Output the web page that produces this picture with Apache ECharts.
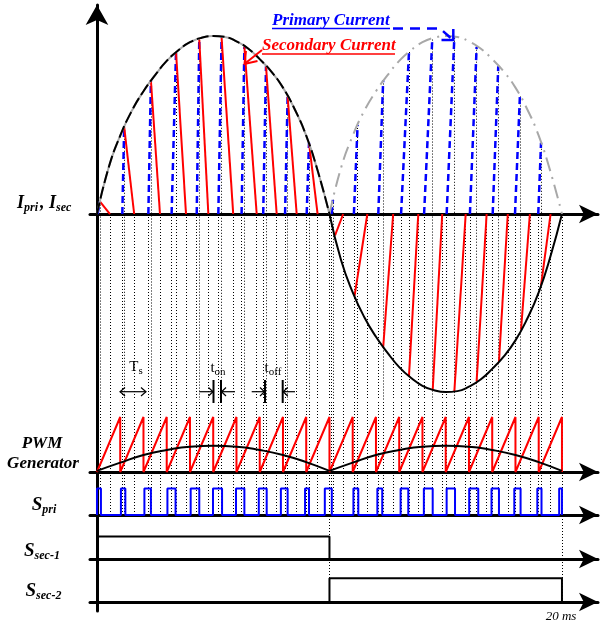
<!DOCTYPE html>
<html><head><meta charset="utf-8">
<script src="https://cdn.jsdelivr.net/npm/echarts@6/dist/echarts.min.js"></script>
<style>html,body{margin:0;padding:0;background:#fff}#c{width:605px;height:626px}</style>
</head><body><div id="c"></div><script>
// ---------- DATA (time in ms) ----------
const envT = [0,0.5,1,1.5,2,2.5,3,3.5,4,4.5,5,5.5,6,6.5,7,7.5,8,8.5,9,9.5,10];
const envI = [0,0.26,0.44,0.58,0.69,0.78,0.86,0.92,0.965,0.99,1.0,0.995,0.97,0.93,0.87,0.80,0.71,0.59,0.44,0.24,0];
const halfCycle = 10;
// primary current ramps (blue dashed)
const priStart = [0.03,1.09,2.21,3.21,4.29,5.22,6.22,7.15,8.09,9.02,10.09,11.05,12.10,13.08,14.07,15.04,16.04,17.02,17.98,18.98];
const priEnd   = [0.13,1.17,2.32,3.40,4.40,5.36,6.34,7.27,8.20,9.12,10.15,11.21,12.31,13.42,14.42,15.37,16.33,17.26,18.19,19.10];
const priPeak  = [0.07,0.49,0.75,0.91,0.98,0.99,0.94,0.83,0.66,0.40,0.08,0.50,0.75,0.91,0.98,0.99,0.94,0.83,0.66,0.40];
// secondary current ramps (red)
const secStart = [0.13,1.17,2.32,3.40,4.40,5.36,6.34,7.27,8.20,9.12,10.24,11.08,12.31,13.42,14.44,15.37,16.33,17.29,18.24,19.10];
const secPeak  = [0.07,0.49,0.75,0.91,0.98,0.99,0.94,0.83,0.66,0.40,-0.12,-0.46,-0.75,-0.91,-0.99,-1.0,-0.94,-0.83,-0.65,-0.40];
const secEnd   = [0.56,1.60,2.71,3.83,4.79,5.86,6.87,7.73,8.59,9.49,10.59,11.63,12.74,13.82,14.85,15.86,16.76,17.67,18.62,19.51];
// PWM generator
const sawPeakT = [1,2,3,4,5,6,7,8,9,10,11,12,13,14,15,16,17,18,19,20];
const refT = [0,1,2,3,4,5,6,7,8,9,10];
const refV = [0.02,0.17,0.31,0.40,0.46,0.475,0.46,0.40,0.31,0.18,0.02];
// switch signals
const sPriOn  = [0.0,1.03,2.04,3.03,4.03,4.99,5.98,6.96,7.91,8.95,9.80,11.03,12.06,13.06,14.06,15.04,16.01,16.97,17.95,18.94,19.88];
const sPriOff = [0.17,1.22,2.32,3.38,4.40,5.38,6.34,7.30,8.20,9.12,10.10,11.24,12.27,13.39,14.44,15.40,16.40,17.29,18.22,19.12,20.0];
const sSec1 = [0, 10];
const sSec2 = [10, 20];
const markerT = [10, 20];

// ---------- LAYOUT ----------
const BLUE='#0000ff', RED='#ff0000', GREY='#a8a8a8';
const SERIF="'Liberation Serif','Times New Roman',serif";
const xMin=-0.3, xMax=21.55;
const panels=[
  {top:5,height:395,min:-1.0449,max:1.1742},
  {top:400,height:72,min:0,max:1.309},
  {top:472,height:43,min:0,max:1.6226},
  {top:515,height:44,min:0,max:1.9556},
  {top:559,height:52,min:-0.3797,max:1.8143}
];
const dot={color:'#000',width:1,type:[1,2],opacity:1};
function vl(times,y0,y1){return times.map(t=>({coords:[[t,y0],[t,y1]]}));}
function dotted(i,data){return {type:'lines',coordinateSystem:'cartesian2d',xAxisIndex:i,yAxisIndex:i,polyline:false,silent:true,lineStyle:dot,data,z:1};}
function line(i,data,ls,extra){return Object.assign({type:'line',xAxisIndex:i,yAxisIndex:i,data,symbol:'none',showSymbol:false,silent:true,lineStyle:ls,z:3},extra||{});}

const allT=priStart.concat(priEnd,secEnd,markerT);
const envFirst=envT.map((t,k)=>[t,envI[k]]);
const envSecond=envT.map((t,k)=>[t+halfCycle,envI[k]]);
const envNeg=envT.map((t,k)=>[t+halfCycle,-envI[k]]);
const saw=[[0,0]];sawPeakT.forEach(p=>{saw.push([p,1]);saw.push([p,0]);});
const ref1=refT.map((t,k)=>[t,refV[k]]);
const ref2=refT.map((t,k)=>[t+halfCycle,refV[k]]);
const spri=[[0,0]];sPriOn.forEach((s,k)=>{spri.push([s,0],[s,1],[sPriOff[k],1],[sPriOff[k],0]);});
const ssec1=[[sSec1[0],1],[sSec1[1],1],[sSec1[1],0]];
const ssec2=[[sSec2[0],0],[sSec2[0],1],[sSec2[1],1],[sSec2[1],0]];

const series=[
  dotted(0, priEnd.map((t,k)=>({coords:[[t,priPeak[k]],[t,panels[0].min]]}))
     .concat(vl(priStart,0,panels[0].min),vl(secEnd,0,panels[0].min),vl(markerT,0,panels[0].min))),
  {type:'lines',coordinateSystem:'cartesian2d',xAxisIndex:0,yAxisIndex:0,polyline:false,silent:true,z:5,
    lineStyle:{color:BLUE,width:2.5,type:[7,4],opacity:1},
    data:priStart.map((s,k)=>({coords:[[s,0],[priEnd[k],priPeak[k]]]}))},
  {type:'lines',coordinateSystem:'cartesian2d',xAxisIndex:0,yAxisIndex:0,polyline:false,silent:true,z:5,
    lineStyle:{color:RED,width:2,opacity:1},
    data:secStart.map((s,k)=>({coords:[[s,secPeak[k]],[secEnd[k],0]]}))},
  line(0,envFirst,{color:GREY,width:2},{smooth:0.5,z:6}),
  line(0,envFirst,{color:'#000',width:2,type:[12,4]},{smooth:0.5,z:7}),
  line(0,envSecond,{color:GREY,width:2,type:[14,6,2,6]},{smooth:0.5,z:6}),
  line(0,envNeg,{color:'#000',width:2},{smooth:0.5,z:6}),
  dotted(1, vl(allT,0,panels[1].max)),
  line(1,saw,{color:RED,width:2}),
  line(1,ref1,{color:'#000',width:2},{smooth:0.5,z:4}),
  line(1,ref2,{color:'#000',width:2},{smooth:0.5,z:4}),
  dotted(2, vl(allT,0,panels[2].max)),
  line(2,spri,{color:BLUE,width:2}),
  dotted(3, vl(markerT,0,panels[3].max)),
  line(3,ssec1,{color:'#000',width:2}),
  dotted(4, vl(markerT,0,panels[4].max)),
  line(4,ssec2,{color:'#000',width:2})
];

// text with subscripts: separate pieces placed using measured widths
const mctx=document.createElement('canvas').getContext('2d');
function label(x,yc,parts,F,f,o){
  o=o||{};
  const w=o.bold===false?'normal':'bold', st=o.italic===false?'normal':'italic', c=o.color||'#000';
  const drop=o.drop!=null?o.drop:4.5;
  const gap=o.gap!=null?o.gap:0;
  const items=parts.map(p=>{
    const sz=p[1]?f:F;
    mctx.font=st+' '+w+' '+sz+'px '+SERIF;
    return {t:p[0],sz,sub:!!p[1],wd:mctx.measureText(p[0]).width+(p[1]?gap:0)};
  });
  const total=items.reduce((a,b)=>a+b.wd,0);
  let x0=o.align==='left'?x:x-total/2;
  return items.map(it=>{
    const el={type:'text',x:x0,y:it.sub?yc+drop:yc,z:100,silent:true,
      style:{text:it.t,fontSize:it.sz,fontFamily:SERIF,fontWeight:w,fontStyle:st,fill:c,align:'left',verticalAlign:'middle'}};
    x0+=it.wd;return el;
  });
}
function seg(pts,stroke,w,dash){return {type:'polyline',z:100,silent:true,shape:{points:pts},style:{stroke,lineWidth:w,fill:null,lineDash:dash||null}};}

const graphic=[].concat(
  label(17,203,[['I'],['pri',1],[', I'],['sec',1]],18,12,{align:'left',gap:2}),
  label(42,444,[['PWM']],17,12),
  label(43,464,[['Generator']],17,12),
  label(44,505.5,[['S'],['pri',1]],19,12),
  label(42,551,[['S'],['sec-1',1]],19,12),
  label(43.5,591,[['S'],['sec-2',1]],19,12),
  label(561,617,[['20 ms']],13,10,{bold:false}),
  label(136,367,[['T'],['s',1]],15,11,{bold:false,italic:false,drop:4}),
  label(218,368,[['t'],['on',1]],15,11,{bold:false,italic:false,drop:4}),
  label(273,368,[['t'],['off',1]],15,11,{bold:false,italic:false,drop:4}),
  label(272,21,[['Primary Current']],17,12,{align:'left',color:BLUE}),
  label(262,46,[['Secondary Current']],17,12,{align:'left',color:RED}),
  [
  seg([[272,28.5],[390,28.5]],BLUE,1.5),
  seg([[393,28.5],[440,28.5],[453,40]],BLUE,2.5,[10,7]),
  seg([[441.5,40],[453.3,40],[453.3,29]],BLUE,2.5),
  seg([[262,54],[395,54]],RED,1.5),
  seg([[262,50],[245,63.5]],RED,2),
  seg([[246,51],[244.5,64],[257.5,61]],RED,2),
  seg([[120,391.7],[146,391.7]],'#000',1.2),
  seg([[125,387.5],[120,391.7],[125,396]],'#000',1.2),
  seg([[141,387.5],[146,391.7],[141,396]],'#000',1.2),
  seg([[199.3,391.7],[213,391.7]],'#000',1.2),
  seg([[208.5,387.5],[213,391.7],[208.5,396]],'#000',1.2),
  seg([[213.5,380],[213.5,403]],'#000',2),
  seg([[221,380],[221,403]],'#000',2),
  seg([[235,391.7],[221.5,391.7]],'#000',1.2),
  seg([[226,387.5],[221.5,391.7],[226,396]],'#000',1.2),
  seg([[251.7,391.7],[264.5,391.7]],'#000',1.2),
  seg([[260,387.5],[264.5,391.7],[260,396]],'#000',1.2),
  seg([[265,380],[265,403]],'#000',2),
  seg([[282.7,380],[282.7,403]],'#000',2),
  seg([[295,391.7],[283.2,391.7]],'#000',1.2),
  seg([[287.7,387.5],[283.2,391.7],[287.7,396]],'#000',1.2)
  ]
);

const option={
  animation:false,
  backgroundColor:'#fff',
  grid:panels.map(p=>({left:90,width:508,top:p.top,height:p.height,outerBoundsMode:'none'})),
  xAxis:panels.map((p,i)=>({type:'value',gridIndex:i,min:xMin,max:xMax,
    axisLine:{show:true,onZero:true,symbol:['none','arrow'],symbolSize:[14,19],lineStyle:{color:'#000',width:3}},
    axisTick:{show:false},axisLabel:{show:false},splitLine:{show:false}})),
  yAxis:panels.map((p,i)=>({type:'value',gridIndex:i,min:p.min,max:p.max,
    axisLine:{show:true,onZero:true,symbol:i===0?['none','arrow']:'none',symbolSize:[17,20],lineStyle:{color:'#000',width:3}},
    axisTick:{show:false},axisLabel:{show:false},splitLine:{show:false}})),
  series,
  graphic
};
echarts.init(document.getElementById('c'),null,{renderer:'canvas'}).setOption(option);
</script></body></html>
